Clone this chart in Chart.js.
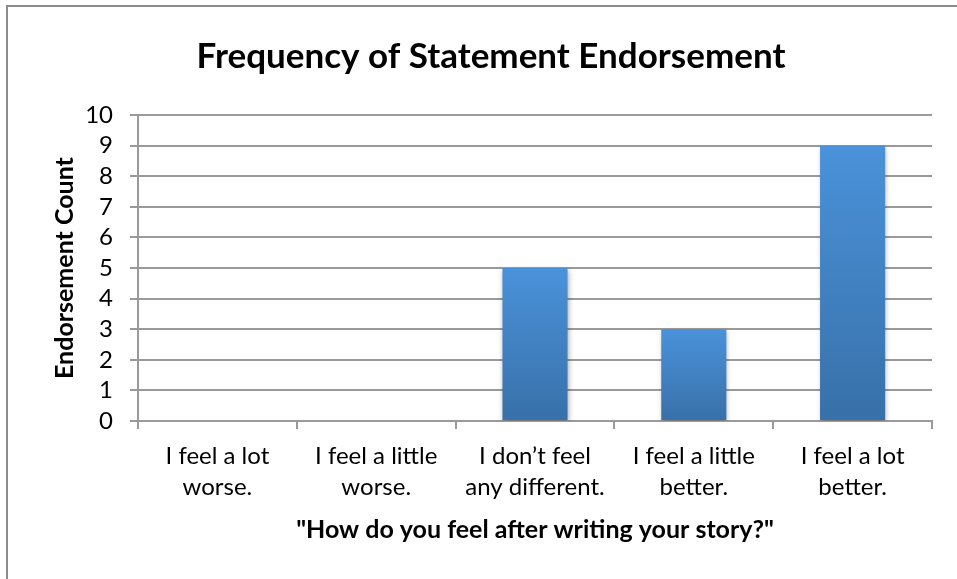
<!DOCTYPE html>
<html>
<head>
<meta charset="utf-8">
<script src="https://cdn.jsdelivr.net/npm/chart.js@4"></script>
<style>
  html, body { margin: 0; padding: 0; background: #fff; }
  #wrap { width: 957px; height: 579px; position: relative; }
</style>
</head>
<body>
<div id="wrap"><canvas id="chart" width="957" height="579"></canvas></div>
<script>
const ctx = document.getElementById('chart');

const categories = [
  ["I feel a lot", "worse."],
  ["I feel a little", "worse."],
  ["I don\u2019t feel", "any different."],
  ["I feel a little", "better."],
  ["I feel a lot", "better."]
];
const counts = [0, 0, 5, 3, 9];
const yTicks = [0, 1, 2, 3, 4, 5, 6, 7, 8, 9, 10];

const fontFamily = "Lato, 'Open Sans', sans-serif";
const gridGray = '#9a9a9a';

// gradient per bar: light on top, darker at the base
function barFill(c) {
  const chart = c.chart;
  const y = chart.scales && chart.scales.y;
  if (!y || c.raw == null) return '#4285cc';
  const top = y.getPixelForValue(c.raw);
  const base = y.getPixelForValue(0);
  if (!isFinite(top) || !isFinite(base) || top === base) return '#4285cc';
  const g = chart.ctx.createLinearGradient(0, top, 0, base);
  g.addColorStop(0, '#4a92da');
  g.addColorStop(1, '#3870a8');
  return g;
}

const frame = {
  id: 'frame',
  afterDraw(chart) {
    const c = chart.ctx;
    c.save();
    c.strokeStyle = '#8c8c8c';
    c.lineWidth = 2;
    c.beginPath();
    c.moveTo(7, 579);
    c.lineTo(7, 6);
    c.lineTo(957, 6);
    c.stroke();
    c.restore();
  }
};

const shadow = {
  id: 'shadow',
  beforeDatasetsDraw(chart) {
    const c = chart.ctx;
    c.save();
    c.shadowColor = 'rgba(0,0,0,0.3)';
    c.shadowBlur = 5;
    c.shadowOffsetX = 1;
    c.shadowOffsetY = 2;
  },
  afterDatasetsDraw(chart) {
    chart.ctx.restore();
  }
};

new Chart(ctx, {
  type: 'bar',
  data: {
    labels: categories,
    datasets: [{
      label: 'Endorsement Count',
      data: counts,
      backgroundColor: barFill,
      borderWidth: 0,
      barPercentage: 0.41,
      categoryPercentage: 1
    }]
  },
  plugins: [frame, shadow],
  options: {
    responsive: false,
    animation: false,
    layout: { padding: { left: 50, right: 25, top: 0, bottom: 34 } },
    plugins: {
      legend: { display: false },
      tooltip: { enabled: false },
      title: {
        display: true,
        text: 'Frequency of Statement Endorsement',
        color: '#000',
        font: { family: fontFamily, size: 35, weight: 'bold', lineHeight: 1.2 },
        padding: { top: 36, bottom: 37 }
      }
    },
    scales: {
      x: {
        grid: {
          display: true,
          offset: true,
          drawOnChartArea: false,
          drawTicks: true,
          tickLength: 8,
          color: gridGray,
          lineWidth: 2
        },
        border: { display: true, color: gridGray, width: 2 },
        ticks: {
          color: '#000',
          padding: 12,
          maxRotation: 0,
          autoSkip: false,
          font: { family: fontFamily, size: 24, lineHeight: 1.29 }
        },
        title: {
          display: true,
          text: '"How do you feel after writing your story?"',
          color: '#000',
          font: { family: fontFamily, size: 25, weight: 'bold', lineHeight: 1.2 },
          padding: { top: 0, bottom: 0 }
        }
      },
      y: {
        min: 0,
        max: 10,
        afterFit: s => { s.width = 88; },
        afterBuildTicks: s => { s.ticks = yTicks.map(v => ({ value: v })); },
        grid: {
          color: gridGray,
          lineWidth: 2,
          tickLength: 8,
          drawTicks: true
        },
        border: { display: true, color: gridGray, width: 2 },
        ticks: {
          color: '#000',
          padding: 17,
          autoSkip: false,
          font: { family: fontFamily, size: 24 }
        },
        title: {
          display: true,
          text: 'Endorsement Count',
          color: '#000',
          font: { family: fontFamily, size: 25, weight: 'bold', lineHeight: 1.2 },
          padding: { top: 0, bottom: 0 }
        }
      }
    }
  }
});
</script>
</body>
</html>
